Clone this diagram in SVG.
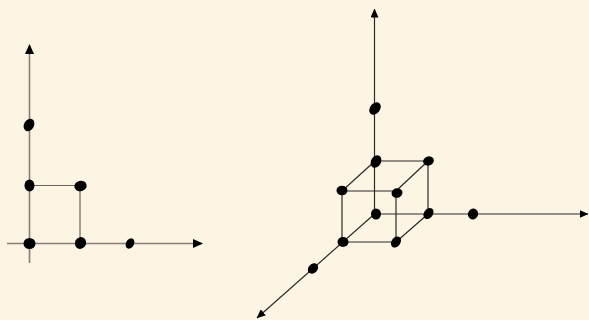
<svg xmlns="http://www.w3.org/2000/svg" width="589" height="320" viewBox="0 0 589 320">
<defs>
<marker id="arrL" markerWidth="10" markerHeight="9" refX="9" refY="4.5" orient="auto" markerUnits="userSpaceOnUse"><path d="M0,0 L10,4.5 L0,9 Z" fill="#000"/></marker>
<marker id="arrR" markerWidth="9" markerHeight="8" refX="8.5" refY="4" orient="auto" markerUnits="userSpaceOnUse"><path d="M0,0 L9,4 L0,8 Z" fill="#000"/></marker>
</defs>
<style>
.axL{stroke:#8a7c78;stroke-width:1.6;fill:none}
.lnL{stroke:#6e6460;stroke-width:1.2;fill:none}
.axR{stroke:#2a2a2a;stroke-width:1.2;fill:none}
.dot{fill:#000}
</style>
<rect width="589" height="320" fill="#fdf5e3"/>
<g id="connectors">
<line class="axL" x1="29.5" y1="263" x2="29.5" y2="45" marker-end="url(#arrL)"/>
<line class="axL" x1="7" y1="243.5" x2="202" y2="243.5" marker-end="url(#arrL)"/>
<polyline class="lnL" points="29.5,185.5 80,185.5 80,243.5"/>
<line class="axR" x1="374.5" y1="214" x2="374.5" y2="9" marker-end="url(#arrR)"/>
<line class="axR" x1="374.5" y1="214" x2="588" y2="214" marker-end="url(#arrR)"/>
<line class="axR" x1="374.5" y1="214" x2="257" y2="318" marker-end="url(#arrR)"/>
<polyline class="axR" points="342,242 396,242 396,191 342,191 342,242"/>
<polyline class="axR" points="375,161 428,161 428,214"/>
<line class="axR" x1="375" y1="161" x2="342" y2="191"/>
<line class="axR" x1="428" y1="161" x2="396" y2="191"/>
<line class="axR" x1="428" y1="214" x2="396" y2="242"/>
</g>
<g id="left-dots">
<ellipse id="dL1" class="dot" cx="29.5" cy="243.5" rx="6" ry="5.5"/>
<ellipse id="dL2" class="dot" cx="80.5" cy="243" rx="5.5" ry="6" transform="rotate(30 80.5 243)"/>
<ellipse id="dL3" class="dot" cx="130" cy="243.5" rx="4" ry="5.5" transform="rotate(30 130 243.5)"/>
<ellipse id="dL4" class="dot" cx="29.5" cy="185.5" rx="5" ry="6"/>
<ellipse id="dL5" class="dot" cx="80.5" cy="186" rx="6.2" ry="5.2" transform="rotate(-15 80.5 186)"/>
<ellipse id="dL6" class="dot" cx="29" cy="125" rx="5" ry="6.5" transform="rotate(30 29 125)"/>
</g>
<g id="right-dots">
<ellipse id="dR1" class="dot" cx="376" cy="214" rx="5" ry="5.5"/>
<ellipse id="dR2" class="dot" cx="428.5" cy="213.5" rx="4.5" ry="6" transform="rotate(35 428.5 213.5)"/>
<ellipse id="dR3" class="dot" cx="473" cy="214" rx="5" ry="5.5" transform="rotate(30 473 214)"/>
<ellipse id="dR4" class="dot" cx="375" cy="108.5" rx="5" ry="6.8" transform="rotate(40 375 108.5)"/>
<ellipse id="dR5" class="dot" cx="376" cy="161.5" rx="5" ry="6.5" transform="rotate(30 376 161.5)"/>
<ellipse id="dR6" class="dot" cx="428.5" cy="161" rx="5.5" ry="4.5" transform="rotate(-20 428.5 161)"/>
<ellipse id="dR7" class="dot" cx="342" cy="190.5" rx="5.5" ry="4.8"/>
<ellipse id="dR8" class="dot" cx="397" cy="193" rx="5.5" ry="4.8" transform="rotate(-15 397 193)"/>
<ellipse id="dR9" class="dot" cx="343" cy="242" rx="5.5" ry="5"/>
<ellipse id="dR10" class="dot" cx="396" cy="242" rx="4.5" ry="6" transform="rotate(35 396 242)"/>
<ellipse id="dR11" class="dot" cx="313" cy="268.5" rx="4.5" ry="5.8" transform="rotate(45 313 268.5)"/>
</g>
</svg>
